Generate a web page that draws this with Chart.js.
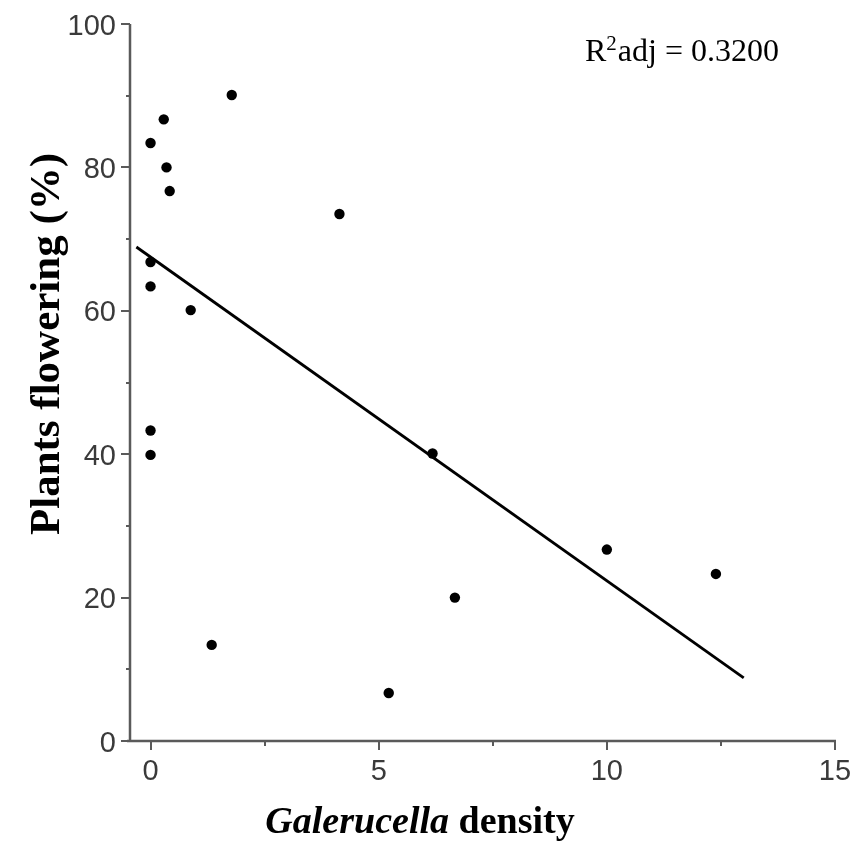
<!DOCTYPE html>
<html>
<head>
<meta charset="utf-8">
<script src="https://cdn.jsdelivr.net/npm/chart.js@4.4.0/dist/chart.umd.min.js"></script>
<style>
  html, body { margin: 0; padding: 0; background: #fff; }
  #wrap { width: 855px; height: 846px; position: relative; }
</style>
</head>
<body>
<div id="wrap"><canvas id="c" width="855" height="846"></canvas></div>
<script>
// Data
const densityX = [0, 0.29, 1.78, 0.35, 0.42, 0, 0, 0.88, 4.14, 0, 0, 6.18, 1.34, 5.22, 6.67, 10.0, 12.39];
const floweringY = [83.4, 86.7, 90.1, 80.0, 76.7, 66.8, 63.4, 60.1, 73.5, 43.3, 39.9, 40.1, 13.4, 6.7, 20.0, 26.7, 23.3];
const fitX = [-0.31, 13.0];
const fitY = [68.9, 8.8];
const xTicks = [0, 2.5, 5, 7.5, 10, 12.5, 15];
const xMajor = [0, 5, 10, 15];
const yTicks = [0, 10, 20, 30, 40, 50, 60, 70, 80, 90, 100];
const yMajor = [0, 20, 40, 60, 80, 100];
const annotation = { base: 'R', sup: '2', rest: 'adj = 0.3200' };

const points = densityX.map((x, i) => ({ x: x, y: floweringY[i] }));
const fitLine = fitX.map((x, i) => ({ x: x, y: fitY[i] }));

const axisColor = '#5a5a5a';
const tickFont = '29px "Liberation Sans"';

const customAxes = {
  id: 'customAxes',
  afterDraw(chart) {
    const ctx = chart.ctx;
    const xs = chart.scales.x, ys = chart.scales.y;
    const ca = chart.chartArea;
    ctx.save();
    ctx.strokeStyle = axisColor;
    ctx.lineWidth = 2.5;
    // axis lines
    ctx.beginPath();
    ctx.moveTo(ca.left, ca.top);
    ctx.lineTo(ca.left, ca.bottom + 1);
    ctx.moveTo(ca.left - 3, ca.bottom);
    ctx.lineTo(xs.getPixelForValue(15) + 1, ca.bottom);
    ctx.stroke();
    ctx.lineWidth = 2;
    // y ticks
    ctx.beginPath();
    yTicks.forEach(v => {
      const py = Math.round(ys.getPixelForValue(v));
      const len = yMajor.includes(v) ? 9 : 4;
      ctx.moveTo(ca.left - len, py);
      ctx.lineTo(ca.left, py);
    });
    // x ticks
    xTicks.forEach(v => {
      const px = Math.round(xs.getPixelForValue(v));
      const len = xMajor.includes(v) ? 9 : 5;
      ctx.moveTo(px, ca.bottom);
      ctx.lineTo(px, ca.bottom + len);
    });
    ctx.stroke();
    // tick labels
    ctx.fillStyle = '#3a3a3a';
    ctx.font = tickFont;
    ctx.textAlign = 'right';
    ctx.textBaseline = 'alphabetic';
    yMajor.forEach(v => {
      ctx.fillText(String(v), ca.left - 14, ys.getPixelForValue(v) + 10.5);
    });
    ctx.textAlign = 'center';
    xMajor.forEach(v => {
      ctx.fillText(String(v), xs.getPixelForValue(v), ca.bottom + 39);
    });
    // y title
    ctx.fillStyle = '#000';
    ctx.save();
    ctx.translate(48, 344);
    ctx.rotate(-Math.PI / 2);
    ctx.font = 'bold 43px "Liberation Serif"';
    ctx.textAlign = 'center';
    ctx.textBaseline = 'middle';
    ctx.fillText('Plants flowering (%)', 0, 0);
    ctx.restore();
    // x title with mixed styles
    const p1 = 'Galerucella', p2 = ' density';
    const fs = 38;
    ctx.font = 'italic bold ' + fs + 'px "Liberation Serif"';
    const w1 = ctx.measureText(p1).width;
    ctx.font = 'bold ' + fs + 'px "Liberation Serif"';
    const w2 = ctx.measureText(p2).width;
    let sx = 420 - (w1 + w2) / 2;
    ctx.textAlign = 'left';
    ctx.textBaseline = 'middle';
    ctx.font = 'italic bold ' + fs + 'px "Liberation Serif"';
    ctx.fillText(p1, sx, 823);
    ctx.font = 'bold ' + fs + 'px "Liberation Serif"';
    ctx.fillText(p2, sx + w1, 823);
    // annotation
    ctx.textBaseline = 'alphabetic';
    let ax = 585;
    const ay = 61;
    ctx.font = '32px "Liberation Serif"';
    ctx.fillText(annotation.base, ax, ay);
    ax += ctx.measureText(annotation.base).width;
    ctx.font = '21px "Liberation Serif"';
    ctx.fillText(annotation.sup, ax, ay - 11);
    ax += ctx.measureText(annotation.sup).width;
    ctx.font = '32px "Liberation Serif"';
    ctx.fillText(annotation.rest, ax + 1, ay);
    ctx.restore();
  }
};

new Chart(document.getElementById('c'), {
  type: 'scatter',
  data: {
    datasets: [
      {
        type: 'line',
        data: fitLine,
        borderColor: '#000',
        borderWidth: 2.8,
        pointRadius: 0,
        fill: false,
        tension: 0,
        order: 2
      },
      {
        data: points,
        backgroundColor: '#000',
        borderColor: '#000',
        pointRadius: 5.2,
        pointBorderWidth: 0,
        order: 1
      }
    ]
  },
  options: {
    responsive: false,
    animation: false,
    events: [],
    layout: { padding: { left: 0, right: 20, top: 24, bottom: 0 } },
    plugins: { legend: { display: false }, tooltip: { enabled: false } },
    scales: {
      x: {
        type: 'linear',
        min: -0.45,
        max: 15,
        grid: { display: false, drawTicks: false },
        border: { display: false },
        ticks: { display: false },
        afterFit(scale) { scale.height = 105; }
      },
      y: {
        type: 'linear',
        min: 0,
        max: 100,
        grid: { display: false, drawTicks: false },
        border: { display: false },
        ticks: { display: false },
        afterFit(scale) { scale.width = 130; }
      }
    }
  },
  plugins: [customAxes]
});
</script>
</body>
</html>
